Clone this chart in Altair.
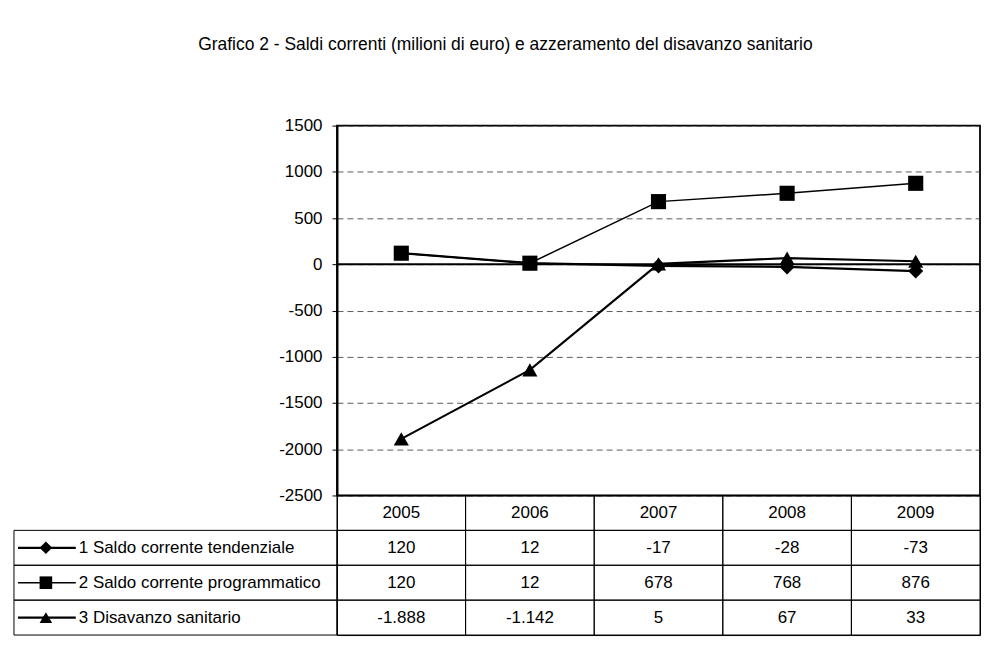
import altair as alt
import pandas as pd

years = ["2005", "2006", "2007", "2008", "2009"]
series = ["1 Saldo corrente tendenziale", "2 Saldo corrente programmatico", "3 Disavanzo sanitario"]
tendenziale = [120, 12, -17, -28, -73]
programmatico = [120, 12, 678, 768, 876]
disavanzo = [-1888, -1142, 5, 67, 33]
shapes = ["diamond", "square", "triangle-up"]
line_widths = [2.3, 1.5, 2.1]
y_ticks = [-2500, -2000, -1500, -1000, -500, 0, 500, 1000, 1500]
title = "Grafico 2 - Saldi correnti (milioni di euro) e azzeramento del disavanzo sanitario"


def it_fmt(v):
    return f"{v:,}".replace(",", ".")


rows = []
for s, vals in zip(series, [tendenziale, programmatico, disavanzo]):
    for y, v in zip(years, vals):
        rows.append({"series": s, "year": y, "value": v, "label": it_fmt(v)})
df = pd.DataFrame(rows)

FONT = "Liberation Sans"
FS = 17
PW, PH = 645, 371
LW = 326
TH = 140

shape_scale = alt.Scale(domain=series, range=shapes)

xs = alt.X("year:O", scale=alt.Scale(domain=years, type="point", padding=0.5), axis=None)
ys = alt.Y(
    "value:Q",
    scale=alt.Scale(domain=[-2500, 1500], nice=False, zero=False),
    axis=alt.Axis(
        values=y_ticks, title=None, grid=True, gridDash=[6, 4], gridColor="#333",
        gridWidth=0.8, tickSize=5, tickColor="black", domainColor="black", domainWidth=2,
        labelFont=FONT, labelFontSize=FS, labelColor="black", labelPadding=10,
        labelExpr="datum.value + ''",
    ),
)

base = alt.Chart(df)
line_layers = [
    base.transform_filter(alt.datum.series == s).mark_line(color="black", strokeWidth=w).encode(x=xs, y=ys)
    for s, w in zip(series, line_widths)
]
zero = alt.Chart(pd.DataFrame({"value": [0]})).mark_rule(color="black", strokeWidth=2).encode(
    y=alt.Y("value:Q")
)
points = base.mark_point(filled=True, color="black", opacity=1, size=230).encode(
    x=xs, y=ys, shape=alt.Shape("series:N", scale=shape_scale, legend=None)
)
plot = alt.layer(*line_layers, zero, points).properties(
    width=PW, height=PH, view=alt.ViewBackground(stroke="black", strokeWidth=1.8)
)

spacer = alt.Chart(pd.DataFrame({"a": [0]})).mark_point(opacity=0).encode(
    x=alt.value(0), y=alt.value(0)
).properties(width=LW, height=PH, view=alt.ViewBackground(stroke="transparent"))

# table
row_domain = ["anno"] + series
hdr = pd.DataFrame({"row": "anno", "year": years, "label": years})
tab = pd.concat([hdr, df[["series", "year", "label"]].rename(columns={"series": "row"})], ignore_index=True)
tx = alt.X("year:N", scale=alt.Scale(domain=years, paddingInner=0, paddingOuter=0), axis=None)
ty = alt.Y("row:N", scale=alt.Scale(domain=row_domain, paddingInner=0, paddingOuter=0), axis=None)
tcells = alt.Chart(tab).mark_rect(fillOpacity=0, stroke="black", strokeWidth=1).encode(x=tx, y=ty)
ttext = alt.Chart(tab).mark_text(font=FONT, fontSize=FS, color="black").encode(x=tx, y=ty, text="label:N")
table = alt.layer(tcells, ttext).properties(
    width=PW, height=TH, view=alt.ViewBackground(stroke="black", strokeWidth=1)
)

leg = pd.DataFrame({"row": series})
ly = alt.Y("row:N", scale=alt.Scale(domain=row_domain, paddingInner=0, paddingOuter=0), axis=None)
lcell = alt.Chart(leg).mark_rect(fillOpacity=0, stroke="black", strokeWidth=1).encode(
    x=alt.value(2), x2=alt.value(LW), y=ly
)
lrules = [
    alt.Chart(leg).transform_filter(alt.datum.row == s).mark_rule(color="black", strokeWidth=w).encode(
        x=alt.value(6), x2=alt.value(64), y=ly
    )
    for s, w in zip(series, line_widths)
]
lpt = alt.Chart(leg).mark_point(filled=True, color="black", opacity=1, size=160).encode(
    x=alt.value(34), y=ly, shape=alt.Shape("row:N", scale=shape_scale, legend=None)
)
ltext = alt.Chart(leg).mark_text(align="left", font=FONT, fontSize=FS, color="black").encode(
    x=alt.value(67), y=ly, text="row:N"
)
legend = alt.layer(lcell, *lrules, lpt, ltext).properties(
    width=LW, height=TH, view=alt.ViewBackground(stroke="transparent")
)

chart = alt.concat(spacer, plot, legend, table, columns=2, spacing=0, bounds="flush").properties(
    title=alt.TitleParams(
        title, anchor="start", dx=190, offset=62, fontSize=17.5, font=FONT,
        fontWeight="normal", color="black",
    ),
    padding={"top": 27, "left": 0, "right": 0, "bottom": 0},
).configure(background="white")

chart.save("out.html", embed_options={"renderer": "svg", "actions": False})
